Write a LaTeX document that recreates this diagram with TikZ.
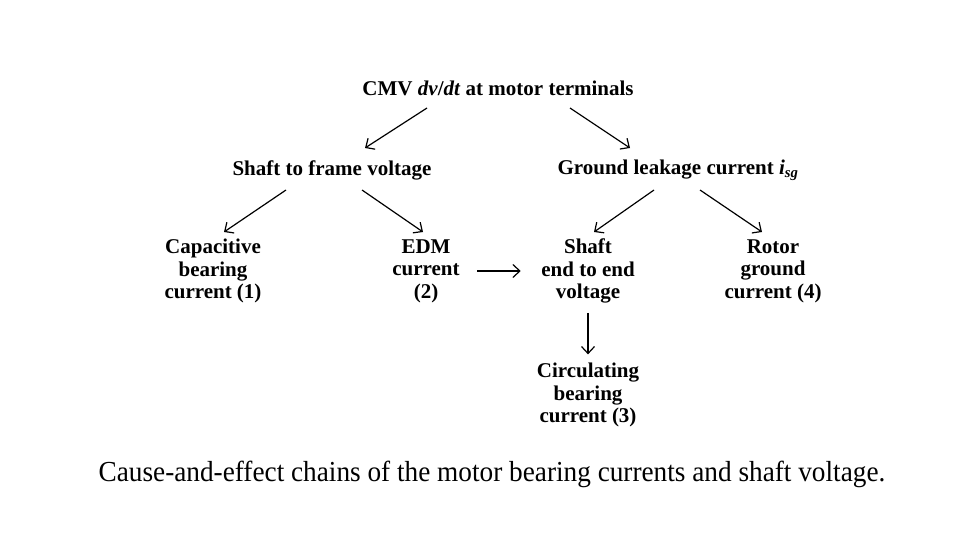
\documentclass[tikz,border=0pt]{standalone}
\usepackage{fontspec}
\setmainfont{Liberation Serif}
\usetikzlibrary{arrows.meta}

\begin{document}
\begin{tikzpicture}[x=1pt,y=-1pt,line width=1.2pt]
\tikzset{
  cause/.style={align=center,inner sep=0pt,font=\fontsize{21}{22.5}\selectfont\bfseries},
  effect/.style={-{Straight Barb[length=7pt,width=13pt,line width=1.2pt]}},
}
\useasboundingbox (0,0) rectangle (960,540);
% top level
\node[cause] (cmv) at (498,88) {CMV \textit{dv}/\textit{dt} at motor terminals};
% second level
\node[cause] (sfv) at (332,170) {Shaft to frame voltage};
\node[cause] (glc) at (678,170) {Ground leakage current \textit{i}\textsubscript{\textit{sg}}};
% third level
\node[cause] (cap) at (213,271) {Capacitive\\bearing\\current (1)};
\node[cause] (edm) at (426,271) {EDM\\current\\(2)};
\node[cause] (see) at (588,271) {Shaft\\end to end\\voltage};
\node[cause] (rgc) at (773,271) {Rotor\\ground\\current (4)};
% fourth level
\node[cause] (cbc) at (588,395) {Circulating\\bearing\\current (3)};
% arrow ends
\coordinate (cmv-l) at (427,108);
\coordinate (cmv-r) at (570,108);
\coordinate (sfv-in) at (365,148);
\coordinate (glc-in) at (630,148);
\coordinate (sfv-l) at (286,190);
\coordinate (sfv-r) at (362,190);
\coordinate (cap-in) at (224,232);
\coordinate (edm-in) at (423,232);
\coordinate (glc-l) at (654,190);
\coordinate (glc-r) at (700,190);
\coordinate (see-in) at (594,232);
\coordinate (rgc-in) at (762,232);
\draw[effect] (cmv-l) -- (sfv-in);
\draw[effect] (cmv-r) -- (glc-in);
\draw[effect] (sfv-l) -- (cap-in);
\draw[effect] (sfv-r) -- (edm-in);
\draw[effect] (glc-l) -- (see-in);
\draw[effect] (glc-r) -- (rgc-in);
\draw[effect,shorten <=17pt,shorten >=20pt] (edm.east) -- (see.west |- edm.east);
\draw[effect,shorten <=9pt,shorten >=8pt] (see.south) -- (cbc.north);
% caption
\node[inner sep=0pt,font=\fontsize{29}{32}\selectfont] (caption) at (492,474)
  {\scalebox{0.94}[1]{Cause-and-effect chains of the motor bearing currents and shaft voltage.}};
\end{tikzpicture}
\end{document}
